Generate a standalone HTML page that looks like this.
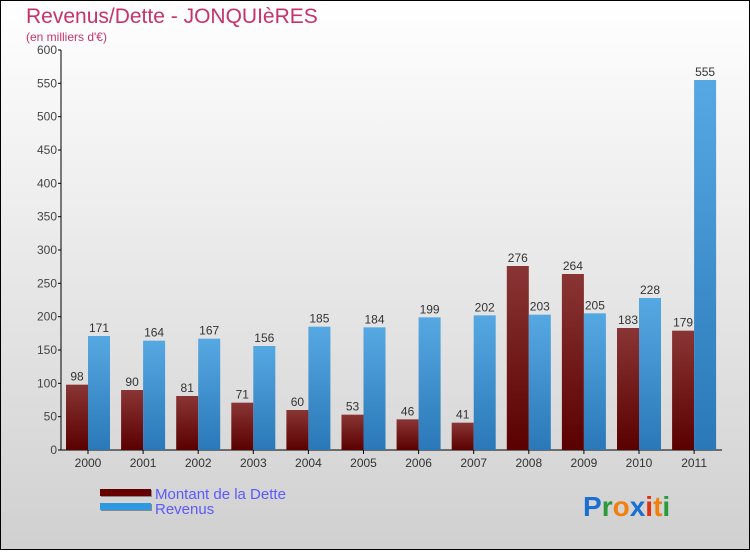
<!DOCTYPE html>
<html><head><meta charset="utf-8"><style>
html,body{margin:0;padding:0}
body{width:750px;height:550px;overflow:hidden;font-family:"Liberation Sans",sans-serif}
</style></head><body>
<svg width="750" height="550" xmlns="http://www.w3.org/2000/svg">
<defs>
<linearGradient id="bg" x1="0" y1="0" x2="0" y2="1"><stop offset="0" stop-color="#ffffff"/><stop offset="1" stop-color="#d0d0d0"/></linearGradient>
<linearGradient id="gd" x1="0" y1="0" x2="0" y2="1"><stop offset="0" stop-color="#8a3535"/><stop offset="1" stop-color="#5a0000"/></linearGradient>
<linearGradient id="gr" x1="0" y1="0" x2="0" y2="1"><stop offset="0" stop-color="#56a8e2"/><stop offset="1" stop-color="#2a78b8"/></linearGradient>
</defs>
<rect x="0.5" y="0.5" width="749" height="549" fill="url(#bg)" stroke="#000"/>
<text x="26" y="23" font-size="21" fill="#c8326a">Revenus/Dette - JONQUIèRES</text>
<text x="26" y="41" font-size="12" fill="#c8326a">(en milliers d'€)</text>
<g id="plot"></g>
<g>
<rect x="101" y="490" width="51" height="7" fill="#888"/><rect x="100" y="489" width="51" height="7" fill="#650000"/>
<text x="155" y="499" font-size="15" fill="#5a5aff">Montant de la Dette</text>
<rect x="101" y="504" width="51" height="7" fill="#888"/><rect x="100" y="503" width="51" height="7" fill="#2e99e0"/>
<text x="155" y="514" font-size="15" fill="#5a5aff">Revenus</text>
</g>
<text x="583" y="516" font-size="28" font-weight="bold"><tspan fill="#1a6fd0">P</tspan><tspan fill="#2a9a3a">r</tspan><tspan fill="#f08010">o</tspan><tspan fill="#1a6fd0">x</tspan><tspan fill="#e03010">i</tspan><tspan fill="#f08010">t</tspan><tspan fill="#2a9a3a">i</tspan></text>
</svg>
<script>
const years=["2000","2001","2002","2003","2004","2005","2006","2007","2008","2009","2010","2011"];
const debt=[98,90,81,71,60,53,46,41,276,264,183,179];
const revenue=[171,164,167,156,185,184,199,202,203,205,228,555];
const yTicks=[0,50,100,150,200,250,300,350,400,450,500,550,600];
const NS="http://www.w3.org/2000/svg";
const g=document.getElementById('plot');
const y=v=>450-v*400/600;
const cx=i=>88+i*55.1;
function mk(t,a,p){const e=document.createElementNS(NS,t);for(const k in a)e.setAttribute(k,a[k]);(p||g).appendChild(e);return e;}
let ax=mk('line',{x1:61,y1:50,x2:61,y2:450,stroke:'#000'});


let bx=mk('line',{x1:61,y1:450,x2:722,y2:450,stroke:'#000'});


yTicks.forEach(v=>{
 mk('line',{x1:58,y1:y(v),x2:61,y2:y(v),stroke:'#000'});
 let t=mk('text',{x:57,y:y(v)+4,'font-size':12,fill:'#444','text-anchor':'end'});t.textContent=v;
 
 
});
years.forEach((yr,i)=>{
 const c=cx(i);
 mk('line',{x1:c,y1:450,x2:c,y2:454,stroke:'#000'});
 let t=mk('text',{x:c,y:467,'font-size':12,fill:'#333','text-anchor':'middle'});t.textContent=yr;
 
 
 let b=mk('rect',{x:c-22,y:y(debt[i]),width:22,height:450-y(debt[i]),fill:'url(#gd)'});
 
 
 let r=mk('rect',{x:c,y:y(revenue[i]),width:22,height:450-y(revenue[i]),fill:'url(#gr)'});
 
 
 let l1=mk('text',{x:c-11,y:y(debt[i])-4,'font-size':12,fill:'#333','text-anchor':'middle'});l1.textContent=debt[i];
 
 
 let l2=mk('text',{x:c+11,y:y(revenue[i])-4,'font-size':12,fill:'#333','text-anchor':'middle'});l2.textContent=revenue[i];
 
 
});
</script>
</body></html>
